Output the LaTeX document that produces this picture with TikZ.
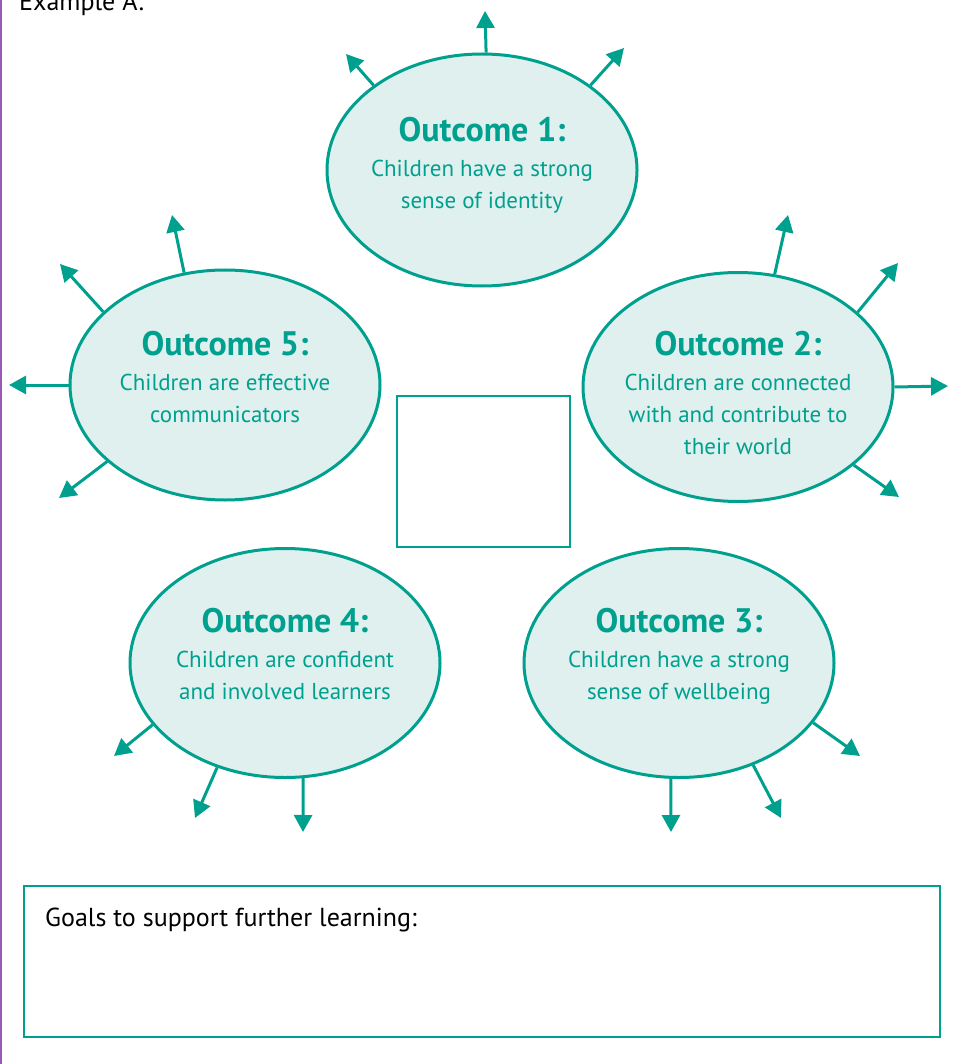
\documentclass[tikz,border=0pt]{standalone}
\usepackage{fontspec}
\setmainfont{PT Sans}
\usetikzlibrary{shapes.geometric,arrows.meta}
\definecolor{teal}{RGB}{0,160,142}
\definecolor{lightteal}{RGB}{223,240,238}
\definecolor{edgepurple}{RGB}{155,89,182}
\tikzset{
  outcome/.style={ellipse, draw=teal, line width=3pt, fill=lightteal, inner sep=0pt,
    minimum width=310pt, minimum height=232pt},
  outcometext/.style={align=center, text=teal, inner sep=0pt,
    font=\fontsize{23}{32}\selectfont},
  ray/.style={draw=teal, line width=3pt, -{Triangle[length=17pt,width=18pt]}},
  plainbox/.style={draw=teal, line width=2.5pt, fill=white, inner sep=0pt},
  blacktext/.style={anchor=base west, font=\fontsize{26}{30}\selectfont, inner sep=0pt},
}
\newcommand{\otitle}[1]{{\fontsize{34}{32}\selectfont\bfseries #1}\\[3pt]}
\begin{document}
\begin{tikzpicture}[x=1pt,y=-1pt]
\useasboundingbox (0,0) rectangle (952,1064);
\fill[white] (0,0) rectangle (952,1064);
\draw[edgepurple, line width=2pt] (1,0) -- (1,1064);
\node[blacktext] (example) at (19,11) {Example A:};

\node[outcome] (o1) at (482,170) {};
\node[outcome, minimum height=230pt] (o5) at (225,385) {};
\node[outcome, minimum height=229pt] (o2) at (738,387) {};
\node[outcome, minimum height=229pt] (o4) at (285,663) {};
\node[outcome, minimum height=229pt] (o3) at (679,663) {};

\node[outcometext] (o1t) at ([yshift=5pt]o1.center) {\otitle{Outcome 1:}Children have a strong\\sense of identity};
\node[outcometext] (o5t) at ([yshift=8pt]o5.center) {\otitle{Outcome 5:}Children are effective\\communicators};
\node[outcometext] (o2t) at ([yshift=-6pt]o2.center) {\otitle{Outcome 2:}Children are connected\\with and contribute to\\their world};
\node[outcometext] (o4t) at ([yshift=9pt]o4.center) {\otitle{Outcome 4:}Children are confident\\and involved learners};
\node[outcometext] (o3t) at ([yshift=7pt]o3.center) {\otitle{Outcome 3:}Children have a strong\\sense of wellbeing};

\node[plainbox, minimum width=173pt, minimum height=151pt] (centre) at (483.5,471.5) {};
\node[draw=teal, line width=2pt, minimum width=916pt, minimum height=151pt, inner sep=0pt] (goals) at (482,961.5) {};
\node[blacktext] (goalstext) at (45,926) {Goals to support further learning:};

% tips
\coordinate (t1a) at (346,54);
\coordinate (t1b) at (485,11);
\coordinate (t1c) at (624,48);
\coordinate (t5a) at (172,215);
\coordinate (t5b) at (60,264);
\coordinate (t5c) at (9,385);
\coordinate (t5d) at (59,498);
\coordinate (t2a) at (788,215);
\coordinate (t2b) at (898,263);
\coordinate (t2c) at (948,386);
\coordinate (t2d) at (899,497);
\coordinate (t3a) at (860,756);
\coordinate (t3b) at (781,818);
\coordinate (t3c) at (671,832);
\coordinate (t4a) at (114,756);
\coordinate (t4b) at (195,818);
\coordinate (t4c) at (303,832);

\draw[ray] (o1.142.7) -- (t1a);
\draw[ray] (o1.88.5) -- (t1b);
\draw[ray] (o1.38) -- (t1c);
\draw[ray] (o5.110.6) -- (t5a);
\draw[ray] (o5.149) -- (t5b);
\draw[ray] (o5.180) -- (t5c);
\draw[ray] (o5.213) -- (t5d);
\draw[ray] (o2.72.3) -- (t2a);
\draw[ray] (o2.32.9) -- (t2b);
\draw[ray] (o2.0.4) -- (t2c);
\draw[ray] (o2.326.4) -- (t2d);
\draw[ray] (o3.336.2) -- (t3a);
\draw[ray] (o3.306) -- (t3b);
\draw[ray] (o3.266) -- (t3c);
\draw[ray] (o4.205.9) -- (t4a);
\draw[ray] (o4.237.5) -- (t4b);
\draw[ray] (o4.279) -- (t4c);
\end{tikzpicture}
\end{document}
